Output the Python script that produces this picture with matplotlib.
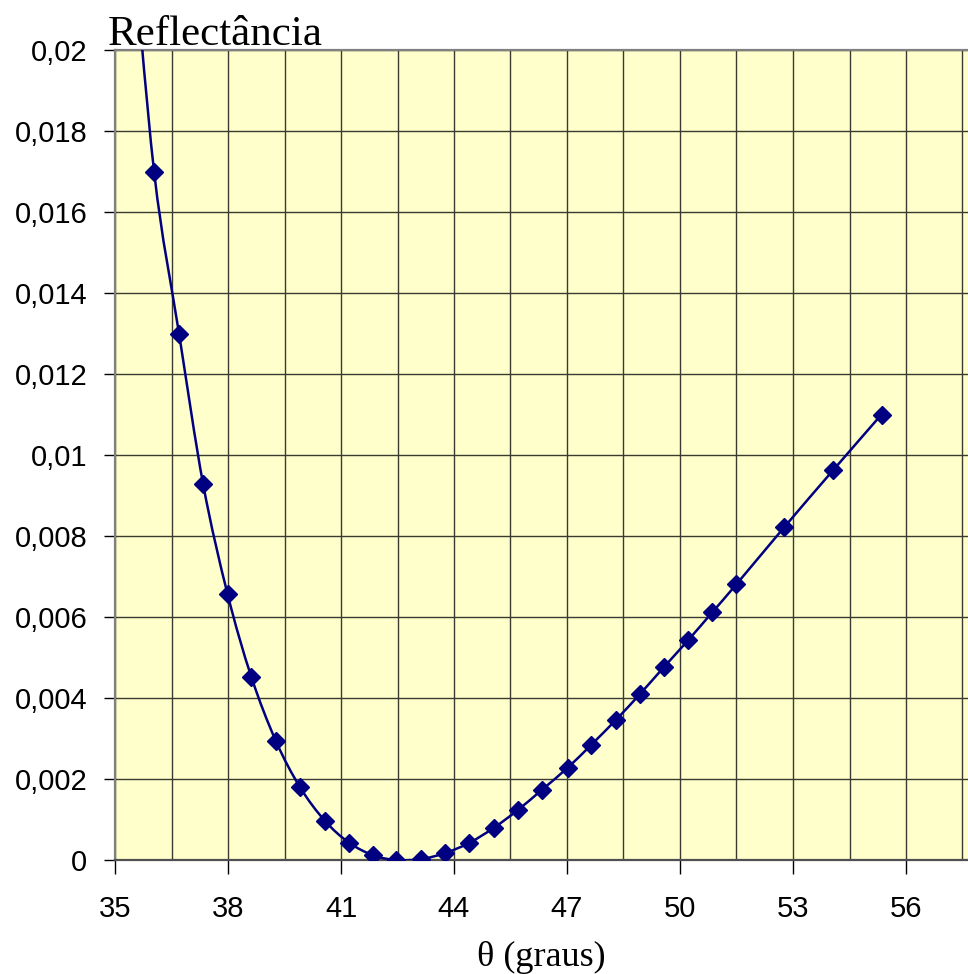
import matplotlib
matplotlib.use("Agg")
import matplotlib.pyplot as plt
from matplotlib.path import Path
from matplotlib.patches import PathPatch
from matplotlib.ticker import FixedLocator, FuncFormatter
import numpy as np

# Data (angle in degrees, reflectance)
theta = [35.40, 36.04, 36.70, 37.34, 37.99, 38.62, 39.27, 39.91, 40.57, 41.21,
         41.86, 42.46, 43.12, 43.76, 44.40, 45.05, 45.69, 46.33, 47.02, 47.65,
         48.30, 48.94, 49.57, 50.22, 50.86, 51.50, 52.77, 54.07, 55.35]
refl = [0.0235, 0.01698, 0.0130, 0.00928, 0.00656, 0.00452, 0.00294, 0.00180,
        0.00097, 0.00043, 0.000115, 0.0, 0.00002, 0.00017, 0.00042, 0.00079,
        0.00123, 0.00173, 0.00228, 0.00285, 0.00346, 0.00410, 0.00476, 0.00543,
        0.00612, 0.00681, 0.00822, 0.00963, 0.01100]

x_ticks = [35, 38, 41, 44, 47, 50, 53, 56]
x_grid = [35, 36.5, 38, 39.5, 41, 42.5, 44, 45.5, 47, 48.5, 50, 51.5, 53,
          54.5, 56, 57.5]
y_ticks = [0, 0.002, 0.004, 0.006, 0.008, 0.01, 0.012, 0.014, 0.016, 0.018, 0.02]

sans = ["Liberation Sans", "DejaVu Sans"]
serif = ["Liberation Serif", "DejaVu Serif"]
plt.rcParams["font.family"] = sans

W, H = 968, 974
fig = plt.figure(figsize=(W / 100, H / 100), dpi=100)
ax = fig.add_axes([115 / W, 1 - 860 / H, (968 - 115) / W, 810 / H])
ax.set_facecolor("#FFFFCC")

ax.set_xlim(35, 35 + (968 - 115) / (113.0 / 3))
ax.set_ylim(0, 0.02)

ax.xaxis.set_major_locator(FixedLocator(x_ticks))
ax.xaxis.set_minor_locator(FixedLocator(x_grid))
ax.yaxis.set_major_locator(FixedLocator(y_ticks))

ax.grid(True, which="both", axis="x", color="#3a3a30", lw=1.0)
ax.grid(True, which="major", axis="y", color="#3a3a30", lw=1.0)
ax.set_axisbelow(True)

def fmt(v, pos):
    return ("%g" % round(v, 6)).replace(".", ",")

ax.yaxis.set_major_formatter(FuncFormatter(fmt))
ax.xaxis.set_major_formatter(FuncFormatter(lambda v, p: "%d" % round(v)))

ax.tick_params(axis="both", which="major", direction="out", color="black",
               width=1.0, labelsize=21)
ax.tick_params(axis="x", which="major", length=10, pad=15)
ax.tick_params(axis="y", which="major", length=8, pad=12)
ax.tick_params(axis="x", which="minor", length=0)

for side in ["left", "bottom", "top"]:
    ax.spines[side].set_color("#808080")
    ax.spines[side].set_linewidth(1.6)
ax.spines["bottom"].set_color("#505050")
ax.spines["right"].set_visible(False)

# Smooth curve through the points (Catmull-Rom style Bezier segments)
P = np.column_stack([theta, refl])
n = len(P)
verts = [tuple(P[0])]
codes = [Path.MOVETO]
for i in range(n - 1):
    p0 = P[i - 1] if i > 0 else P[i]
    p1 = P[i]
    p2 = P[i + 1]
    p3 = P[i + 2] if i + 2 < n else P[i + 1]
    c1 = p1 + (p2 - p0) / 6.0
    c2 = p2 - (p3 - p1) / 6.0
    verts += [tuple(c1), tuple(c2), tuple(p2)]
    codes += [Path.CURVE4] * 3
patch = PathPatch(Path(verts, codes), facecolor="none", edgecolor="#000080",
                  lw=1.8, zorder=3)
ax.add_patch(patch)

ax.plot(theta, refl, linestyle="none", marker="D", ms=9, color="#000080",
        zorder=4)

fig.text(108 / W, 1 - 45 / H, "Reflectância", family=serif, fontsize=31,
         ha="left", va="baseline")
fig.text((115 + 968) / 2 / W, 1 - 966 / H, "θ (graus)", family=serif,
         fontsize=26, ha="center", va="baseline")

fig.savefig("out.png", dpi=100)
